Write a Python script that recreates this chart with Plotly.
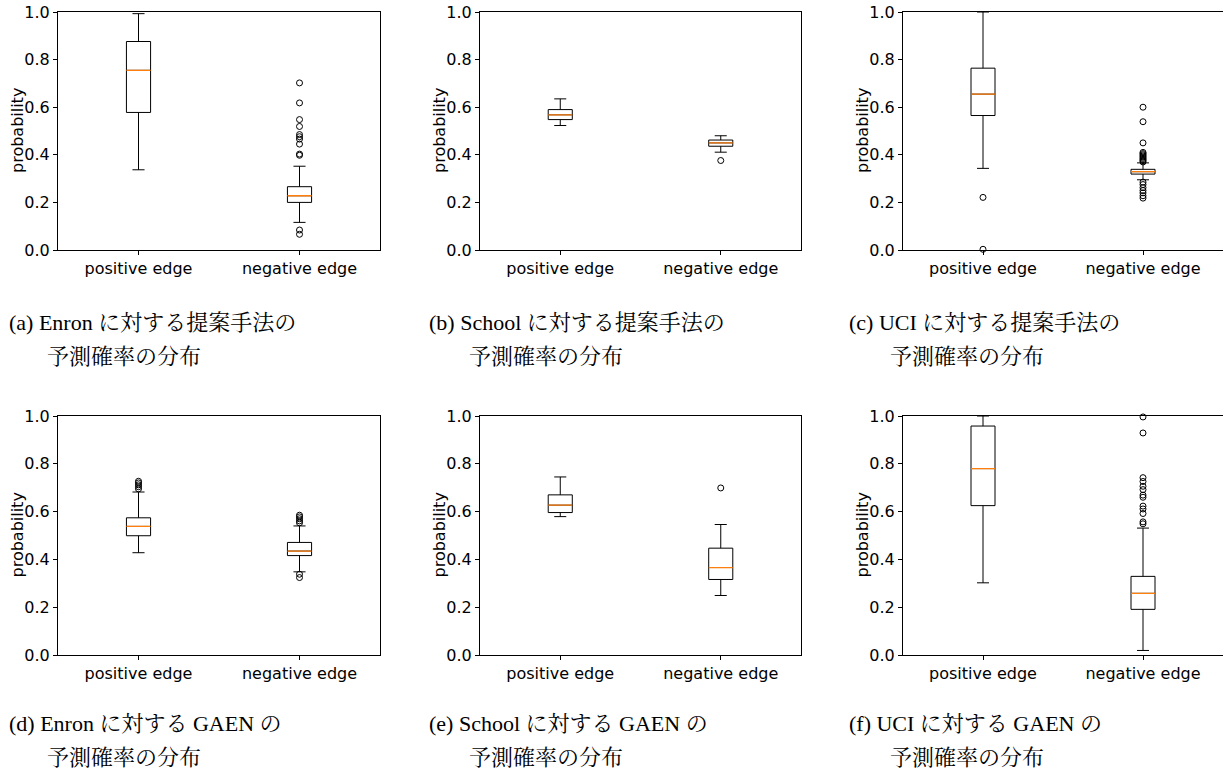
import plotly.graph_objects as go

categories = ["positive edge", "negative edge"]

# panel order: a, b, c, d, e, f
panel_ids = ["a", "b", "c", "d", "e", "f"]

q1 = {
    "a": [0.578, 0.200], "b": [0.548, 0.436], "c": [0.565, 0.319],
    "d": [0.499, 0.416], "e": [0.596, 0.316], "f": [0.625, 0.191],
}
median = {
    "a": [0.755, 0.228], "b": [0.568, 0.450], "c": [0.655, 0.329],
    "d": [0.538, 0.435], "e": [0.627, 0.366], "f": [0.780, 0.258],
}
q3 = {
    "a": [0.876, 0.266], "b": [0.590, 0.462], "c": [0.764, 0.339],
    "d": [0.574, 0.471], "e": [0.670, 0.447], "f": [0.958, 0.329],
}
lowerfence = {
    "a": [0.337, 0.116], "b": [0.523, 0.411], "c": [0.343, 0.295],
    "d": [0.428, 0.348], "e": [0.579, 0.249], "f": [0.302, 0.019],
}
upperfence = {
    "a": [0.993, 0.352], "b": [0.635, 0.480], "c": [1.000, 0.366],
    "d": [0.682, 0.540], "e": [0.745, 0.546], "f": [1.000, 0.531],
}
outliers_pos = {
    "a": [], "b": [], "c": [0.221, 0.003],
    "d": [0.727, 0.720, 0.712, 0.704, 0.695], "e": [], "f": [],
}
outliers_neg = {
    "a": [0.702, 0.618, 0.548, 0.519, 0.485, 0.476, 0.466, 0.445, 0.403, 0.398, 0.084, 0.066],
    "b": [0.376],
    "c": [0.600, 0.539, 0.450, 0.410, 0.405, 0.400, 0.395, 0.390, 0.385, 0.380, 0.375, 0.370,
          0.285, 0.275, 0.262, 0.250, 0.240, 0.228, 0.218],
    "d": [0.585, 0.578, 0.570, 0.561, 0.553, 0.338, 0.324],
    "e": [0.699],
    "f": [0.996, 0.929, 0.742, 0.726, 0.706, 0.692, 0.669, 0.660, 0.623, 0.611, 0.592, 0.557, 0.549],
}

captions_line1 = {
    "a": "(a) Enron に対する提案手法の",
    "b": "(b) School に対する提案手法の",
    "c": "(c) UCI に対する提案手法の",
    "d": "(d) Enron に対する GAEN の",
    "e": "(e) School に対する GAEN の",
    "f": "(f) UCI に対する GAEN の",
}
caption_line2 = "予測確率の分布"
y_title = "probability"

y_ticks = [0.0, 0.2, 0.4, 0.6, 0.8, 1.0]

W, H = 1223, 776
col_px = [(58, 380), (480, 801), (903, 1223)]
row_px = [(12, 250), (416, 655)]
cap_x = [7, 427, 847]
cap_indent = [45, 467, 888]
cap_y = [(322, 357), (723, 757)]
ytitle_gap = 41

fig = go.Figure()
layout = dict(
    width=W, height=H,
    margin=dict(l=0, r=0, t=0, b=0, autoexpand=False),
    paper_bgcolor="white", plot_bgcolor="white",
    showlegend=False, boxmode="overlay",
    font=dict(family="DejaVu Sans", size=16, color="black"),
    annotations=[],
)

cap_font = dict(family="Liberation Serif, Noto Serif CJK JP, Noto Sans CJK JP", size=22, color="black")
tick_font = dict(family="DejaVu Sans", size=16, color="black")

for i, pid in enumerate(panel_ids):
    r, c = divmod(i, 3)
    n = i + 1
    xa = "x" if n == 1 else f"x{n}"
    ya = "y" if n == 1 else f"y{n}"
    x0, x1 = col_px[c]
    y0, y1 = row_px[r]
    layout[f"xaxis{'' if n == 1 else n}"] = dict(
        domain=[x0 / W, min(x1 / W, 1.0)], anchor=ya, type="category",
        categoryorder="array", categoryarray=categories,
        range=[-0.5, 1.5], showgrid=False, zeroline=False, automargin=False,
        showline=True, mirror=True, linecolor="black", linewidth=1,
        ticks="outside", ticklen=4, tickcolor="black", tickfont=tick_font,
    )
    layout[f"yaxis{'' if n == 1 else n}"] = dict(
        domain=[1 - y1 / H, 1 - y0 / H], anchor=xa, automargin=False,
        range=[0, 1], tickvals=y_ticks, tickformat=".1f",
        showgrid=False, zeroline=False,
        showline=True, mirror=True, linecolor="black", linewidth=1,
        ticks="outside", ticklen=4, tickcolor="black", tickfont=tick_font,
    )
    fig.add_trace(go.Box(
        x=categories, q1=q1[pid], median=median[pid], q3=q3[pid],
        lowerfence=lowerfence[pid], upperfence=upperfence[pid],
        width=0.15, whiskerwidth=0.5, boxpoints=False,
        fillcolor="white", line=dict(color="black", width=1),
        xaxis=xa, yaxis=ya, hoverinfo="skip",
    ))
    fig.add_trace(go.Box(
        x=categories, q1=median[pid], median=median[pid], q3=median[pid],
        lowerfence=median[pid], upperfence=median[pid],
        width=0.15, whiskerwidth=0, boxpoints=False,
        fillcolor="rgba(0,0,0,0)", line=dict(color="#ff7f0e", width=1.3),
        xaxis=xa, yaxis=ya, hoverinfo="skip",
    ))
    ox = [categories[0]] * len(outliers_pos[pid]) + [categories[1]] * len(outliers_neg[pid])
    oy = outliers_pos[pid] + outliers_neg[pid]
    fig.add_trace(go.Scatter(
        x=ox, y=oy, mode="markers",
        marker=dict(symbol="circle-open", size=6, color="black", line=dict(width=1)),
        xaxis=xa, yaxis=ya, hoverinfo="skip", cliponaxis=False,
    ))
    # y-axis title
    layout["annotations"].append(dict(
        text=y_title, xref="paper", yref="paper",
        x=(x0 - ytitle_gap) / W, y=1 - (y0 + y1) / 2 / H,
        xanchor="center", yanchor="middle", textangle=-90,
        showarrow=False, font=tick_font,
    ))
    l1y, l2y = cap_y[r]
    layout["annotations"].append(dict(
        text=captions_line1[pid], xref="paper", yref="paper",
        x=cap_x[c] / W, y=1 - l1y / H, xanchor="left", yanchor="middle",
        showarrow=False, font=cap_font,
    ))
    layout["annotations"].append(dict(
        text=caption_line2, xref="paper", yref="paper",
        x=cap_indent[c] / W, y=1 - l2y / H, xanchor="left", yanchor="middle",
        showarrow=False, font=cap_font,
    ))

fig.update_layout(**layout)
fig.write_html("out.html", config={"displayModeBar": False})

# remove the browser's default page margin so the figure sits at (0, 0)
with open("out.html", "r", encoding="utf-8") as f:
    html = f.read()
html = html.replace("<body>", '<body style="margin:0;padding:0;overflow:hidden">', 1)
with open("out.html", "w", encoding="utf-8") as f:
    f.write(html)
